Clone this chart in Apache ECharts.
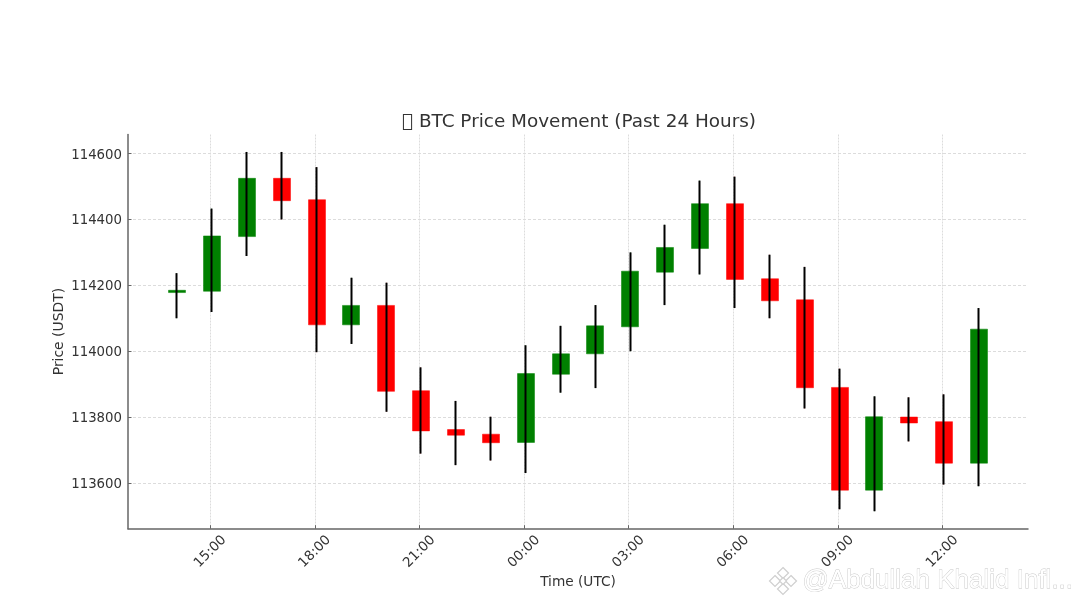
<!DOCTYPE html>
<html><head><meta charset="utf-8">
<style>html,body{margin:0;padding:0;background:#fff}#c{width:1080px;height:607px}</style>
<script src="https://cdn.jsdelivr.net/npm/echarts@6/dist/echarts.min.js"></script>
</head><body><div id="c"></div>
<script>
// Hours after 00:00 of the first day; each candle opens a few minutes past the hour
const hours  = [14.05,15.05,16.05,17.05,18.05,19.05,20.05,21.05,22.05,23.05,24.05,25.05,26.05,27.05,28.05,29.05,30.05,31.05,32.05,33.05,34.05,35.05,36.05,37.05];
const opens  = [114178,114182,114348,114525,114460,114080,114139,113880,113762,113748,113723,113930,113992,114074,114240,114312,114448,114220,114156,113890,113578,113800,113786,113660];
const closes = [114185,114350,114525,114457,114080,114139,113878,113758,113745,113722,113932,113992,114077,114243,114315,114448,114218,114153,113889,113578,113801,113782,113660,114067];
const lows   = [114100,114119,114289,114400,113997,114022,113816,113689,113654,113668,113630,113874,113888,114000,114140,114233,114131,114100,113826,113520,113514,113726,113595,113590];
const highs  = [114237,114433,114605,114605,114559,114223,114208,113951,113849,113801,114018,114077,114140,114300,114384,114518,114530,114293,114256,113947,113863,113860,113869,114131];
const xTicks = [15,18,21,24,27,30,33,36];
const yTicks = [113600,113800,114000,114200,114400,114600];
const titleText = '\uE000 BTC Price Movement (Past 24 Hours)';

const rows = hours.map((h,i)=>[h,opens[i],closes[i],lows[i],highs[i]]);
const fmtHour = v => String(Math.round(v)%24).padStart(2,'0')+':00';
const font = '"DejaVu Sans"';
const chart = echarts.init(document.getElementById('c'),null,{renderer:'canvas'});
const markStroke = '#cfcfcf';
function diamond(cx,cy,r){return {type:'polygon',silent:true,shape:{points:[[cx,cy-r],[cx+r,cy],[cx,cy+r],[cx-r,cy]]},style:{fill:'#fff',stroke:markStroke,lineWidth:1.2}};}
chart.setOption({
  animation:false,
  backgroundColor:'#fff',
  title:{text:titleText,left:574,top:108,textAlign:'center',textStyle:{fontFamily:font,fontSize:18.4,fontWeight:'normal',color:'#333'}},
  grid:{left:128,right:52,top:134.5,bottom:78.3,containLabel:false},
  xAxis:{type:'value',min:12.639,max:38.457,name:'Time (UTC)',nameLocation:'middle',nameGap:47,nameMoveOverlap:false,
    nameTextStyle:{fontFamily:font,fontSize:13.7,color:'#333'},
    axisLine:{onZero:false,lineStyle:{color:'#666',width:1.5}},
    axisTick:{inside:true,length:3.5,customValues:xTicks,lineStyle:{color:'#666',width:1}},
    axisLabel:{rotate:45,customValues:xTicks,formatter:fmtHour,margin:23,align:'center',verticalAlign:'middle',fontFamily:font,fontSize:13.5,color:'#333'},
    splitLine:{show:true,lineStyle:{color:'#dcdcdc',width:1,type:[2,1]}}},
  yAxis:{type:'value',min:113461,max:114658,name:'Price (USDT)',nameLocation:'middle',nameGap:62,nameMoveOverlap:false,
    nameTextStyle:{fontFamily:font,fontSize:13.9,color:'#333'},
    axisLine:{show:true,onZero:false,lineStyle:{color:'#666',width:1.5}},
    axisTick:{show:true,inside:true,length:3.5,customValues:yTicks,lineStyle:{color:'#666',width:1}},
    axisLabel:{customValues:yTicks,formatter:v=>'{a|'+v+'}',margin:6,rich:{a:{padding:[3,0,0,0],fontFamily:font,fontSize:13.3,color:'#333'}},fontFamily:font,fontSize:13.3,color:'#333'},
    splitLine:{show:true,lineStyle:{color:'#dcdcdc',width:1,type:[3,2]}}},
  series:[
    {type:'candlestick',name:'body',data:rows,encode:{x:0,y:[1,2,3,4]},barWidth:17.5,z:3,
      itemStyle:{color:'#008000',color0:'#ff0000',borderColor:'#008000',borderColor0:'#ff0000',borderWidth:0.5}},
    {type:'candlestick',name:'wick',data:rows,encode:{x:0,y:[1,2,3,4]},barWidth:0.6,z:4,
      itemStyle:{color:'#000',color0:'#000',borderColor:'#000',borderColor0:'#000',borderWidth:2}}
  ],
  graphic:{elements:[
    diamond(783,573,5.5),diamond(775,581,5.5),diamond(791,581,5.5),diamond(783,589,5.5),diamond(783,581,3.5),
    {type:'text',silent:true,left:802,top:567,style:{text:'@Abdullah Khalid Infl...',fontFamily:'"Liberation Sans"',fontSize:26,fill:'#fff',stroke:'#c6c6c6',lineWidth:0.8}}
  ]}
});
</script></body></html>
